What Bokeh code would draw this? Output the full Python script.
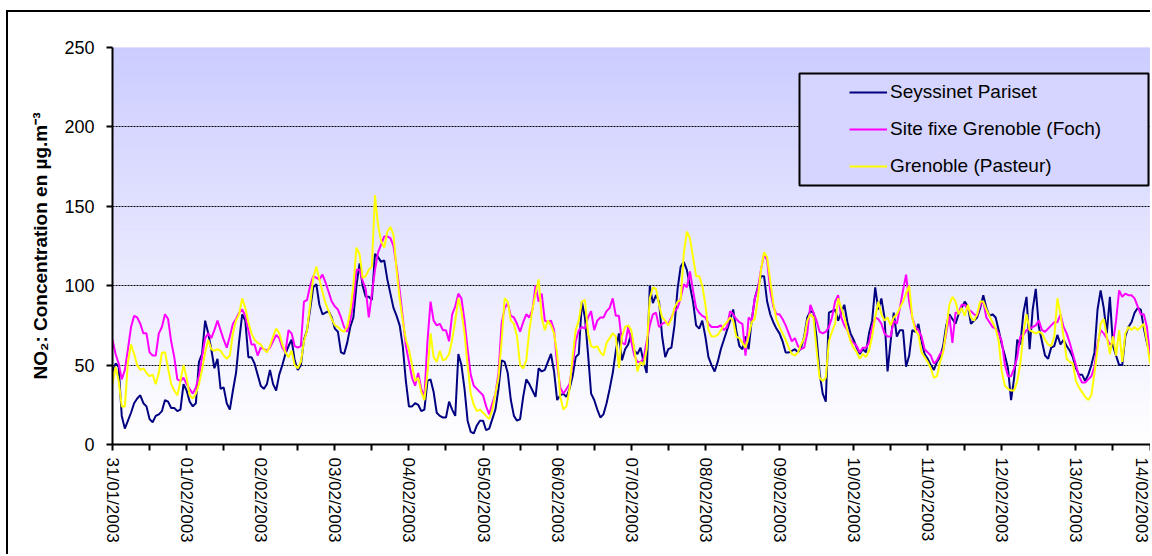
import numpy as np
from bokeh.plotting import figure
from bokeh.models import Range1d, FixedTicker, Legend, LegendItem, BoxAnnotation
from bokeh.embed import file_html
from bokeh.resources import INLINE

# ---------------- data ----------------
day_labels = ["31/01/2003", "01/02/2003", "02/02/2003", "03/02/2003", "04/02/2003",
              "05/02/2003", "06/02/2003", "07/02/2003", "08/02/2003", "09/02/2003",
              "10/02/2003", "11/02/2003", "12/02/2003", "13/02/2003", "14/02/2003"]
step_hours = 1  # hourly values starting 31/01/2003 00:00

series_names = ["Seyssinet Pariset", "Site fixe Grenoble (Foch)", "Grenoble (Pasteur)"]
series_colors = ["#000080", "#FF00FF", "#FFFF00"]

seyssinet = [
    46, 51, 49, 18, 10, 15, 20, 26, 29, 31, 26, 24, 16, 14, 18, 19, 21, 28, 27, 23, 23, 21, 22, 38,
    34, 27, 24, 26, 52, 57, 78, 70, 60, 48, 54, 35, 36, 26, 22, 34, 45, 65, 82, 78, 55, 55, 51, 44,
    37, 35, 38, 47, 38, 34, 44, 50, 57, 62, 66, 53, 47, 50, 66, 72, 85, 99, 101, 88, 82, 83, 84, 80,
    73, 71, 58, 57, 64, 74, 80, 100, 114, 100, 93, 93, 91, 120, 118, 115, 116, 104, 95, 86, 81, 75, 62, 40,
    24, 24, 26, 25, 21, 22, 40, 41, 33, 20, 18, 17, 17, 27, 22, 18, 57, 50, 35, 15, 8, 7, 12, 15,
    15, 9, 10, 16, 22, 35, 53, 52, 45, 28, 18, 15, 16, 30, 41, 38, 34, 30, 48, 46, 47, 52, 57, 46,
    28, 31, 32, 30, 35, 43, 55, 57, 90, 80, 57, 32, 28, 22, 17, 19, 26, 35, 45, 59, 70, 53, 60, 63,
    70, 59, 57, 61, 52, 45, 100, 89, 94, 90, 68, 55, 60, 61, 75, 98, 112, 115, 110, 100, 90, 75, 73, 78,
    68, 55, 50, 46, 52, 60, 66, 72, 78, 85, 72, 62, 60, 68, 60, 78, 92, 99, 106, 106, 90, 82, 77, 73,
    70, 65, 58, 58, 59, 60, 58, 61, 68, 80, 84, 83, 68, 45, 32, 27, 83, 84, 85, 78, 83, 88, 77, 70,
    66, 61, 57, 60, 58, 70, 78, 99, 85, 92, 80, 46, 65, 83, 68, 72, 72, 49, 56, 72, 71, 76, 65, 57,
    54, 50, 47, 52, 55, 62, 75, 82, 79, 76, 82, 86, 90, 87, 76, 78, 80, 86, 94, 86, 81, 82, 80, 72,
    63, 56, 48, 28, 42, 66, 63, 83, 93, 60, 85, 98, 74, 65, 56, 54, 61, 62, 69, 63, 66, 62, 59, 55,
    48, 44, 44, 40, 44, 50, 58, 85, 97, 86, 70, 93, 62, 56, 50, 50, 68, 74, 77, 83, 86, 85, 73, 64,
    57]
foch = [
    66, 57, 51, 41, 47, 60, 74, 81, 80, 76, 70, 70, 58, 56, 56, 70, 74, 82, 79, 65, 55, 41, 40, 42,
    38, 35, 32, 36, 43, 55, 67, 70, 67, 72, 78, 72, 66, 61, 68, 76, 79, 83, 85, 81, 72, 63, 63, 56,
    61, 60, 59, 61, 65, 69, 67, 61, 58, 72, 70, 62, 61, 62, 90, 91, 100, 106, 105, 104, 107, 102, 96, 90,
    87, 85, 80, 74, 71, 78, 90, 110, 110, 103, 98, 80, 95, 110, 121, 126, 131, 131, 130, 125, 112, 97, 80, 62,
    52, 42, 37, 45, 35, 30, 65, 90, 78, 75, 76, 72, 72, 65, 82, 87, 95, 92, 78, 60, 44, 37, 35, 33,
    31, 24, 19, 26, 32, 45, 76, 86, 89, 81, 80, 76, 71, 77, 82, 80, 85, 100, 90, 95, 78, 77, 78, 72,
    50, 36, 32, 35, 38, 50, 65, 72, 74, 73, 80, 84, 72, 78, 80, 80, 84, 86, 92, 81, 81, 64, 63, 74,
    65, 56, 52, 52, 54, 65, 75, 82, 83, 74, 76, 77, 76, 80, 84, 86, 92, 101, 99, 109, 97, 86, 83, 81,
    80, 76, 74, 74, 74, 75, 72, 74, 84, 82, 79, 77, 76, 56, 80, 78, 92, 98, 110, 120, 116, 97, 87, 82,
    82, 79, 75, 70, 65, 67, 62, 60, 61, 70, 88, 83, 78, 71, 70, 71, 74, 80, 90, 94, 80, 75, 72, 66,
    64, 62, 58, 61, 61, 64, 74, 80, 79, 76, 70, 68, 68, 78, 76, 86, 97, 107, 90, 80, 74, 72, 68, 60,
    58, 56, 51, 53, 57, 59, 70, 81, 64, 83, 83, 88, 88, 85, 84, 82, 81, 88, 90, 80, 77, 74, 73, 70,
    65, 50, 43, 43, 48, 55, 68, 69, 72, 73, 74, 75, 78, 72, 71, 73, 75, 77, 77, 82, 74, 70, 64, 57,
    50, 43, 39, 39, 41, 43, 49, 63, 72, 70, 67, 63, 64, 78, 97, 93, 95, 94, 94, 92, 87, 82, 82, 74,
    56]
pasteur = [
    38, 49, 40, 24, 24, 52, 63, 57, 50, 47, 48, 45, 43, 44, 38, 45, 58, 58, 48, 38, 34, 31, 40, 50,
    42, 31, 29, 32, 38, 47, 58, 66, 60, 59, 60, 59, 56, 54, 56, 70, 78, 82, 92, 86, 77, 70, 66, 64,
    63, 60, 58, 62, 68, 73, 70, 63, 58, 55, 59, 50, 48, 52, 65, 72, 88, 105, 112, 104, 96, 89, 84, 79,
    75, 74, 72, 71, 74, 84, 100, 124, 120, 105, 106, 110, 112, 157, 138, 128, 124, 134, 137, 132, 110, 92, 78, 66,
    60, 50, 40, 42, 33, 28, 45, 70, 55, 52, 59, 53, 54, 57, 66, 78, 92, 84, 70, 50, 32, 25, 21, 22,
    20, 18, 16, 22, 32, 42, 65, 92, 90, 78, 76, 68, 50, 48, 53, 72, 85, 95, 104, 80, 72, 78, 75, 70,
    57, 30, 22, 24, 35, 55, 72, 78, 90, 91, 70, 62, 61, 62, 58, 56, 64, 67, 70, 68, 48, 68, 74, 75,
    72, 60, 46, 52, 50, 60, 92, 99, 98, 88, 80, 78, 75, 79, 86, 90, 91, 120, 134, 130, 118, 106, 106, 100,
    88, 72, 68, 68, 69, 72, 75, 77, 80, 78, 68, 67, 64, 61, 68, 77, 79, 92, 110, 121, 118, 103, 89, 79,
    74, 70, 66, 61, 57, 56, 58, 63, 67, 78, 82, 80, 60, 42, 40, 42, 65, 71, 76, 92, 86, 80, 72, 65,
    61, 58, 54, 57, 55, 59, 68, 80, 90, 82, 78, 80, 75, 80, 82, 86, 90, 95, 100, 80, 72, 69, 58, 55,
    52, 48, 42, 43, 52, 58, 72, 88, 93, 90, 82, 86, 81, 88, 80, 78, 82, 90, 90, 85, 81, 77, 73, 65,
    46, 37, 35, 34, 34, 40, 51, 70, 82, 72, 71, 70, 71, 70, 66, 63, 62, 68, 92, 82, 68, 54, 52, 51,
    40, 36, 33, 30, 28, 31, 45, 60, 76, 79, 68, 57, 68, 56, 72, 52, 70, 74, 72, 74, 72, 74, 76, 65,
    51]
y_ticks = [0, 50, 100, 150, 200, 250]
grid_values = [50, 100, 150, 200, 250]
y_label = "NO\u2082: Concentration en \u00b5g.m\u207b\u00b3"

hours = np.arange(len(seyssinet)) * step_hours

# ---------------- figure ----------------
X_END = 336.8
p = figure(width=1144, height=544, output_backend="svg", toolbar_location=None,
           x_range=Range1d(0, X_END), y_range=Range1d(0, 250),
           min_border_left=104, min_border_right=0, min_border_top=35, min_border_bottom=112,
           styles={"margin-left": "6px", "margin-top": "10px",
                   "border-left": "2px solid black", "border-top": "2px solid black"})
p.background_fill_color = "white"
p.border_fill_color = "white"
p.outline_line_color = None

# gradient background (lavender at top -> white at bottom)
n = 125
edges = np.linspace(0, 250, n + 1)
mid = (edges[:-1] + edges[1:]) / 2
t = mid / 250.0
r = np.round(255 - t * (255 - 204)).astype(int)
cols = ["#%02x%02x%02x" % (v, v, 255) for v in r]
p.quad(left=-50, right=X_END + 50, bottom=edges[:-1], top=edges[1:],
       fill_color=cols, line_color=cols, line_width=1, level="image")

# grid
p.xgrid.visible = False
p.ygrid.ticker = FixedTicker(ticks=grid_values)
p.ygrid.grid_line_color = "black"
p.ygrid.grid_line_dash = "2 1"
p.ygrid.grid_line_width = 1

# y axis
ya = p.yaxis[0]
ya.ticker = FixedTicker(ticks=y_ticks)
ya.axis_line_width = 2
ya.axis_line_color = "black"
ya.major_tick_out = 6
ya.major_tick_in = 0
ya.major_tick_line_width = 2
ya.minor_tick_line_color = None
ya.major_label_standoff = 12
ya.major_label_text_font = "Liberation Sans"
ya.major_label_text_font_size = "18px"
ya.major_label_text_color = "black"
ya.axis_label = y_label
ya.axis_label_text_font = "Liberation Sans"
ya.axis_label_text_font_style = "bold"
ya.axis_label_text_font_size = "19px"
ya.axis_label_text_color = "black"
ya.axis_label_standoff = 10

# x axis
xa = p.xaxis[0]
xa.ticker = FixedTicker(ticks=list(range(0, 24 * len(day_labels), 12)))
overrides = {}
for i, lab in enumerate(day_labels):
    overrides[i * 24] = lab
    overrides[i * 24 + 12] = ""
xa.major_label_overrides = overrides
xa.major_label_orientation = "vertical"
xa.axis_line_width = 2
xa.axis_line_color = "black"
xa.major_tick_out = 6
xa.major_tick_in = 0
xa.major_tick_line_width = 2
xa.minor_tick_line_color = None
xa.major_label_standoff = 7
xa.major_label_text_font = "Liberation Sans"
xa.major_label_text_font_size = "17px"
xa.major_label_text_color = "black"

# series
renderers = []
for vals, col in zip([seyssinet, foch, pasteur], series_colors):
    renderers.append(p.line(hours, vals, line_color=col, line_width=2))

# legend box
lbox = BoxAnnotation(left=687, right=1036, bottom=259, top=371,
                     left_units="screen", right_units="screen",
                     top_units="screen", bottom_units="screen",
                     fill_color="#d5d5ff", fill_alpha=1,
                     line_color="black", line_alpha=1, line_width=2)
p.add_layout(lbox)

legend = Legend(items=[LegendItem(label=nm, renderers=[rr]) for nm, rr in zip(series_names, renderers)],
                location=(737, 267), border_line_color=None, background_fill_alpha=0,
                padding=0, margin=0, spacing=15, glyph_width=38, glyph_height=20,
                label_height=20, label_standoff=3,
                label_text_font="Liberation Sans", label_text_font_size="19px",
                label_text_color="black")
p.add_layout(legend)

open("out.html", "w").write(file_html(p, INLINE))
